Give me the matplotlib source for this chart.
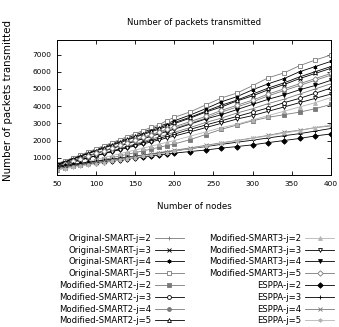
import matplotlib
matplotlib.use("Agg")
import matplotlib.pyplot as plt

# node counts
nodes = [50, 60, 70, 80, 90, 100, 110, 120, 130, 140, 150, 160, 170, 180, 190,
         200, 220, 240, 260, 280, 300, 320, 340, 360, 380, 400]

orig_j2 = [450, 580, 720, 850, 990, 1120, 1260, 1400, 1530, 1670, 1800, 1940, 2070,
           2210, 2340, 2480, 2750, 3050, 3300, 3600, 3850, 4150, 4400, 4700, 5000, 5300]
orig_j3 = [600, 760, 920, 1080, 1240, 1400, 1560, 1720, 1870, 2030, 2190, 2350, 2500,
           2660, 2820, 2980, 3300, 3650, 3950, 4300, 4600, 4950, 5250, 5600, 5900, 6200]
orig_j4 = [620, 790, 960, 1130, 1300, 1470, 1640, 1820, 1980, 2150, 2320, 2490, 2650,
           2820, 2980, 3150, 3480, 3850, 4250, 4550, 4950, 5300, 5600, 6000, 6300, 6600]
orig_j5 = [650, 820, 1000, 1160, 1340, 1520, 1700, 1870, 2050, 2230, 2400, 2580, 2760,
           2900, 3150, 3350, 3660, 4070, 4470, 4760, 5190, 5650, 5930, 6350, 6680, 6970]

smart2_j2 = [300, 400, 500, 600, 700, 800, 900, 1000, 1100, 1200, 1300, 1400, 1500,
             1600, 1700, 1800, 2050, 2350, 2650, 2900, 3150, 3350, 3500, 3650, 3850, 4100]
smart2_j3 = [500, 620, 750, 870, 1000, 1120, 1250, 1370, 1500, 1620, 1750, 1870, 2000,
             2120, 2250, 2370, 2650, 2900, 3150, 3400, 3650, 3900, 4200, 4450, 4750, 5050]
smart2_j4 = [480, 630, 780, 930, 1080, 1230, 1380, 1530, 1680, 1830, 1980, 2130, 2280,
             2430, 2580, 2720, 3000, 3300, 3650, 3950, 4250, 4600, 4900, 5200, 5500, 5800]
smart2_j5 = [600, 770, 930, 1100, 1260, 1420, 1590, 1750, 1920, 2080, 2240, 2400, 2570,
             2730, 2900, 3050, 3350, 3700, 4050, 4350, 4700, 5050, 5350, 5700, 6000, 6300]

smart3_j2 = [350, 460, 570, 680, 790, 900, 1010, 1120, 1230, 1340, 1450, 1560, 1670,
             1780, 1890, 2000, 2250, 2500, 2750, 2950, 3200, 3450, 3700, 3950, 4200, 4500]
smart3_j3 = [550, 660, 780, 890, 1000, 1120, 1230, 1350, 1460, 1580, 1690, 1800, 1920,
             2030, 2150, 2260, 2500, 2750, 3000, 3250, 3450, 3700, 3950, 4200, 4450, 4700]
smart3_j4 = [560, 700, 840, 980, 1120, 1260, 1400, 1540, 1680, 1820, 1960, 2100, 2240,
             2380, 2520, 2660, 2950, 3250, 3500, 3800, 4100, 4400, 4650, 4950, 5200, 5500]
smart3_j5 = [500, 650, 800, 950, 1100, 1260, 1410, 1560, 1720, 1870, 2030, 2180, 2340,
             2490, 2650, 2800, 3100, 3400, 3750, 4050, 4350, 4700, 5000, 5300, 5600, 5900]

esppa_j2 = [450, 500, 560, 610, 670, 720, 780, 830, 890, 940, 1000, 1050, 1110,
            1160, 1220, 1270, 1360, 1450, 1560, 1650, 1750, 1880, 2000, 2120, 2270, 2380]
esppa_j3 = [500, 560, 620, 680, 740, 800, 860, 920, 980, 1040, 1100, 1160, 1220,
            1280, 1340, 1400, 1530, 1650, 1780, 1900, 2020, 2150, 2280, 2400, 2550, 2700]
esppa_j4 = [380, 450, 520, 590, 660, 730, 800, 870, 940, 1010, 1080, 1150, 1220,
            1290, 1360, 1430, 1570, 1720, 1870, 2000, 2150, 2300, 2480, 2600, 2750, 2850]
esppa_j5 = [300, 370, 440, 510, 580, 650, 720, 790, 860, 930, 1000, 1080, 1150,
            1220, 1300, 1380, 1530, 1680, 1830, 1980, 2130, 2280, 2430, 2580, 2750, 2900]

labels = ["Original-SMART-j=2", "Original-SMART-j=3", "Original-SMART-j=4", "Original-SMART-j=5",
          "Modified-SMART2-j=2", "Modified-SMART2-j=3", "Modified-SMART2-j=4", "Modified-SMART2-j=5",
          "Modified-SMART3-j=2", "Modified-SMART3-j=3", "Modified-SMART3-j=4", "Modified-SMART3-j=5",
          "ESPPA-j=2", "ESPPA-j=3", "ESPPA-j=4", "ESPPA-j=5"]
series = [orig_j2, orig_j3, orig_j4, orig_j5,
          smart2_j2, smart2_j3, smart2_j4, smart2_j5,
          smart3_j2, smart3_j3, smart3_j4, smart3_j5,
          esppa_j2, esppa_j3, esppa_j4, esppa_j5]

# gnuplot-like point types and grey levels
markers = ["+", "x", (6, 2, 0), "s", "s", "o", "o", "^",
           "^", "v", "v", "D", "D", "+", "x", (6, 2, 0)]
filled = [False, False, False, False, True, False, True, False,
          True, False, True, False, True, False, False, False]
BLACK, GREY, LIGHT = "#000000", "#7a7a7a", "#b4b4b4"
colors = [GREY, BLACK, BLACK, GREY, GREY, BLACK, GREY, BLACK,
          LIGHT, BLACK, BLACK, GREY, BLACK, BLACK, GREY, LIGHT]

plt.rcParams["font.family"] = "DejaVu Sans"
plt.rcParams["font.size"] = 5.3

fig = plt.figure(figsize=(3.39, 3.27), dpi=100)
ax = fig.add_axes([0.168, 0.465, 0.808, 0.413])

for ys, lab, m, f, c in zip(series, labels, markers, filled, colors):
    ax.plot(nodes, ys, color=c, lw=0.6, marker=m, ms=2.8, mew=0.6,
            mfc=c if f else "white", mec=c, label=lab)

ax.set_xlim(50, 400)
ax.set_ylim(0, 7850)
ax.set_xticks(range(50, 401, 50))
ax.set_yticks(range(1000, 7001, 1000))
ax.tick_params(direction="in", top=True, right=True, length=3, width=0.6, pad=4)
for s in ax.spines.values():
    s.set_linewidth(0.7)

ax.set_title("Number of packets transmitted", fontsize=6.1, pad=11)
ax.set_xlabel("Number of nodes", fontsize=6.2, labelpad=11)
ax.set_ylabel("Number of packets transmitted", fontsize=7.4)
ax.yaxis.set_label_coords(-0.16, 0.55)

# markerfirst=False right-aligns the labels against the samples, gnuplot style
leg = fig.legend(loc="upper right", bbox_to_anchor=(0.985, 0.285), ncol=2,
                 frameon=False, markerfirst=False, fontsize=6.1,
                 handlelength=3.4, handletextpad=0.45, columnspacing=3.0,
                 labelspacing=0.33, borderaxespad=0, borderpad=0)

fig.savefig("out.png", dpi=100)
